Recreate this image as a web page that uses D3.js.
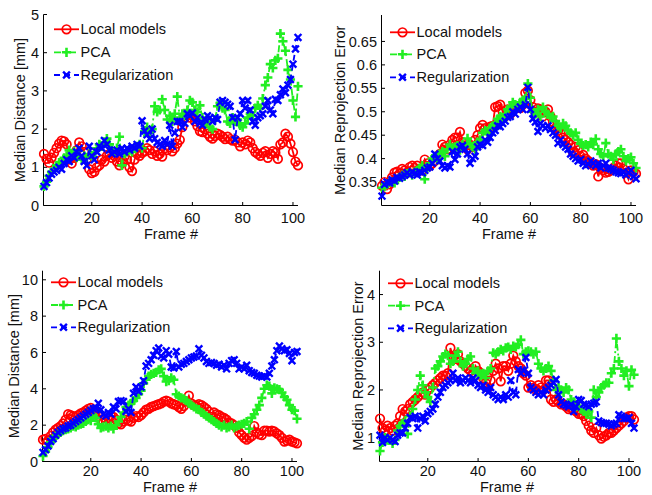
<!DOCTYPE html>
<html><head><meta charset="utf-8">
<script src="https://cdn.jsdelivr.net/npm/d3@7"></script>
<style>
body{margin:0;background:#fff}
svg{display:block}
text{font-family:"Liberation Sans",Arial,Helvetica,sans-serif;font-size:14.5px;fill:#111}
</style>
</head><body>
<svg id="chart" width="652" height="495"></svg>
<script>
const frames = d3.range(1, 103);
const seriesNames = ["Local models", "PCA", "Regularization"];
const xTicks = [20, 40, 60, 80, 100];
const yTicksA = [0, 1, 2, 3, 4, 5];
const yTicksB = [0.35, 0.4, 0.45, 0.5, 0.55, 0.6, 0.65];
const yTicksC = [0, 2, 4, 6, 8, 10];
const yTicksD = [1, 2, 3, 4];
const yLabelDist = "Median Distance [mm]";
const yLabelReproj = "Median Reprojection Error";
const xLabelText = "Frame #";

// Panel A: top-left, median distance
const aLocal = [1.35,1.22,1.12,1.25,1.38,1.5,1.62,1.7,1.68,1.6,
 1.2,1.1,1.25,1.45,1.65,1.55,1.4,1.2,0.95,0.85,
 0.88,1.0,1.05,1.2,1.15,1.3,1.35,1.25,1.3,1.15,
 1.05,1.12,1.28,1.2,1.0,0.9,1.2,1.35,1.3,1.38,
 1.42,1.5,1.45,1.35,1.42,1.3,1.35,1.28,1.5,1.45,
 1.52,1.42,1.5,1.62,1.72,2.05,2.3,2.38,2.3,2.35,
 2.2,2.08,1.95,1.92,2.0,1.88,1.8,1.75,1.82,1.88,
 1.85,1.8,1.74,1.8,1.74,1.7,1.72,1.65,1.55,1.65,
 1.6,1.7,1.65,1.5,1.4,1.35,1.3,1.38,1.42,1.25,
 1.35,1.42,1.38,1.22,1.6,1.65,1.88,1.8,1.62,1.4,
 1.15,1.05];
const aPCA = [0.5,0.62,0.78,0.88,0.95,1.05,1.12,1.1,1.25,1.3,
 1.45,1.35,1.42,1.25,1.3,1.2,1.3,1.25,1.35,1.3,
 1.4,1.5,1.6,1.55,1.65,1.75,1.6,1.45,1.4,1.5,
 1.8,1.05,1.35,1.4,1.45,1.4,1.5,1.55,1.6,1.5,
 1.95,2.05,1.9,2.0,2.6,2.45,2.5,2.78,2.5,2.25,
 2.35,2.2,2.4,2.85,2.3,2.4,2.35,2.5,2.75,2.7,
 2.5,2.45,2.62,2.3,2.15,2.2,2.05,2.0,2.25,2.6,
 2.68,2.55,2.5,2.2,2.15,2.3,2.2,2.25,2.1,2.05,
 2.15,2.3,2.4,2.35,2.55,2.62,2.55,2.8,3.15,3.35,
 3.7,3.6,3.8,3.85,4.5,4.3,4.05,3.55,3.3,2.75,
 2.32,3.12];
const aReg = [0.5,0.6,0.72,0.82,0.88,0.92,1.0,0.95,1.1,1.2,
 1.15,1.3,1.25,1.4,1.5,1.3,1.15,1.05,1.55,1.3,
 1.2,1.4,1.55,1.5,1.7,1.6,1.45,1.35,1.4,1.45,
 1.35,1.5,1.4,1.5,1.45,1.55,1.5,1.6,1.55,2.22,
 1.95,1.85,1.75,2.0,1.75,1.65,1.6,1.55,1.7,1.6,
 2.1,1.55,1.9,2.2,2.2,2.05,2.15,2.4,2.35,2.42,
 2.2,2.3,2.15,2.1,2.25,2.35,2.3,2.2,2.3,2.25,
 2.7,2.75,2.7,2.65,2.6,2.3,1.72,2.3,2.4,2.75,
 2.55,2.75,2.5,2.2,2.1,2.3,2.35,2.4,2.6,2.75,
 2.5,2.4,2.78,2.75,2.9,3.05,2.95,3.15,3.3,3.7,
 4.1,4.4];

// Panel B: top-right, median reprojection error
const bLocal = [0.342,0.35,0.335,0.345,0.36,0.37,0.372,0.368,0.378,0.375,
 0.37,0.382,0.385,0.38,0.385,0.378,0.375,0.398,0.39,0.385,
 0.39,0.395,0.405,0.41,0.43,0.425,0.42,0.43,0.44,0.445,
 0.445,0.457,0.435,0.428,0.42,0.43,0.425,0.44,0.45,0.465,
 0.472,0.465,0.462,0.468,0.47,0.51,0.512,0.515,0.5,0.49,
 0.505,0.495,0.505,0.51,0.512,0.508,0.515,0.54,0.545,0.525,
 0.51,0.5,0.507,0.505,0.49,0.5,0.505,0.49,0.478,0.465,
 0.46,0.455,0.445,0.44,0.435,0.43,0.413,0.425,0.418,0.405,
 0.408,0.4,0.395,0.39,0.385,0.388,0.362,0.38,0.375,0.37,
 0.372,0.375,0.38,0.385,0.39,0.39,0.378,0.37,0.356,0.375,
 0.372,0.368];
const bPCA = [0.338,0.34,0.345,0.35,0.35,0.348,0.355,0.36,0.365,0.362,
 0.368,0.37,0.365,0.372,0.375,0.38,0.385,0.356,0.38,0.39,
 0.4,0.405,0.398,0.41,0.415,0.405,0.42,0.43,0.42,0.425,
 0.428,0.418,0.43,0.425,0.443,0.432,0.425,0.42,0.435,0.44,
 0.455,0.46,0.452,0.465,0.47,0.475,0.485,0.49,0.48,0.495,
 0.505,0.51,0.52,0.515,0.51,0.52,0.525,0.528,0.56,0.53,
 0.5,0.495,0.505,0.49,0.51,0.5,0.495,0.488,0.49,0.48,
 0.47,0.465,0.475,0.47,0.46,0.455,0.45,0.455,0.44,0.432,
 0.428,0.43,0.425,0.435,0.43,0.442,0.42,0.41,0.405,0.433,
 0.41,0.405,0.398,0.41,0.415,0.42,0.405,0.395,0.4,0.403,
 0.39,0.38];
const bReg = [0.32,0.345,0.35,0.348,0.355,0.352,0.36,0.358,0.362,0.365,
 0.37,0.365,0.372,0.368,0.365,0.372,0.37,0.375,0.38,0.382,
 0.39,0.41,0.4,0.395,0.385,0.38,0.385,0.382,0.415,0.398,
 0.41,0.425,0.428,0.42,0.41,0.39,0.4,0.405,0.425,0.43,
 0.428,0.44,0.435,0.445,0.455,0.46,0.47,0.468,0.475,0.48,
 0.488,0.49,0.5,0.495,0.505,0.51,0.505,0.515,0.552,0.505,
 0.485,0.478,0.458,0.475,0.47,0.465,0.47,0.462,0.455,0.45,
 0.433,0.44,0.43,0.425,0.42,0.41,0.405,0.4,0.395,0.398,
 0.39,0.385,0.388,0.395,0.39,0.385,0.39,0.38,0.385,0.39,
 0.38,0.378,0.375,0.372,0.37,0.368,0.372,0.365,0.37,0.375,
 0.362,0.357];

// Panel C: bottom-left, median distance
const cLocal = [1.2,1.25,1.15,1.4,1.6,1.75,1.85,1.95,2.1,2.3,
 2.6,2.55,2.5,2.45,2.55,2.65,2.7,2.8,2.9,2.95,
 2.8,2.75,2.6,2.3,2.15,2.2,2.4,2.5,2.45,2.3,
 2.1,2.05,2.2,2.3,2.25,2.2,2.4,2.5,2.45,2.55,
 2.7,2.85,2.9,3.0,3.05,3.1,3.15,3.2,3.3,3.35,
 3.3,3.2,3.15,3.1,3.0,2.9,3.05,3.3,3.62,3.2,
 3.1,3.05,3.15,3.1,3.0,2.9,2.75,2.45,2.7,2.6,
 2.55,2.45,2.4,2.3,2.15,2.1,2.0,1.85,1.6,1.45,
 1.3,1.2,1.3,1.4,1.95,1.6,1.5,1.45,1.7,1.7,
 1.65,1.7,1.65,1.55,1.45,1.3,1.1,1.15,1.2,1.1,
 1.05,1.0];
const cPCA = [0.3,0.55,0.8,1.05,1.25,1.4,1.5,1.6,1.7,1.75,
 1.8,1.85,1.95,1.9,2.0,2.05,2.1,2.2,2.3,2.25,
 2.5,2.4,2.05,1.85,1.9,1.95,1.85,1.95,1.8,2.0,
 2.2,2.45,2.7,3.0,3.1,3.2,3.35,3.5,3.7,3.9,
 4.3,4.5,4.7,4.8,4.85,4.9,5.05,5.1,4.7,4.4,
 4.45,4.6,4.5,3.7,3.6,3.5,3.45,3.35,3.2,3.1,
 3.0,2.9,2.85,2.7,2.6,2.5,2.4,2.3,2.2,2.1,
 2.0,1.9,2.0,1.85,1.9,2.0,1.85,1.95,2.0,2.05,
 2.1,2.2,1.8,2.4,2.6,2.85,3.1,3.5,4.0,4.2,
 4.15,3.75,4.05,4.0,3.95,3.8,3.55,3.4,3.1,2.85,
 2.8,2.35];
const cReg = [0.5,0.65,0.85,1.1,1.25,1.45,1.6,1.7,1.8,1.85,
 1.95,2.0,2.1,2.2,2.3,2.4,2.5,2.6,2.7,2.8,
 2.9,2.95,3.2,2.85,2.6,2.5,2.7,2.6,3.0,2.9,
 3.3,3.35,3.3,2.75,2.9,2.7,3.75,4.1,3.85,4.1,
 4.45,5.25,5.4,5.6,5.85,6.1,6.25,5.8,5.7,6.1,
 5.9,5.2,5.15,6.05,5.2,5.35,5.4,5.5,5.6,5.7,
 5.75,5.8,6.2,5.85,5.7,5.5,5.4,5.45,5.4,5.3,
 5.35,5.2,5.3,5.1,5.4,5.55,5.6,5.4,5.1,5.2,
 5.1,5.3,5.0,4.9,4.85,4.75,4.7,4.65,4.7,4.65,
 4.85,5.25,5.6,6.1,6.35,6.2,6.1,6.15,5.95,5.55,
 6.0,6.05];

// Panel D: bottom-right, median reprojection error
const dLocal = [1.4,1.2,1.15,1.25,1.2,1.15,1.25,1.3,1.45,1.6,
 1.55,1.6,1.7,1.75,1.8,1.85,1.9,1.95,1.9,2.0,
 2.05,2.1,2.15,2.2,2.25,2.3,2.3,2.35,2.88,2.7,
 2.65,2.75,2.6,2.55,2.5,2.45,2.4,2.35,2.5,2.4,
 2.35,2.25,2.15,2.05,2.2,2.4,2.55,2.45,2.18,2.5,
 2.5,2.4,2.55,2.72,2.6,2.5,2.45,2.35,2.3,2.05,
 2.1,2.05,2.0,2.1,2.05,2.0,2.2,2.2,1.8,1.75,
 1.8,1.75,1.7,1.7,1.65,1.6,1.62,1.58,1.55,1.5,
 1.5,1.45,1.35,1.25,1.15,1.1,1.2,1.05,0.98,1.02,
 1.05,1.1,1.1,1.15,1.2,1.25,1.3,1.35,1.42,1.45,
 1.45,1.38];
const dPCA = [0.72,0.9,1.0,0.95,0.95,0.88,0.95,1.15,1.25,1.3,
 1.35,1.08,1.45,1.6,1.8,2.0,2.3,2.1,1.95,1.85,
 1.75,2.05,2.45,2.5,2.6,2.7,2.75,2.72,2.55,2.6,
 2.72,2.8,2.6,2.5,2.55,2.65,2.7,2.45,2.35,2.4,
 2.3,2.35,2.25,2.4,2.45,2.78,2.75,2.8,2.85,2.82,
 2.88,2.9,2.85,2.92,2.9,2.95,3.05,2.75,2.8,2.82,
 2.8,2.75,2.8,2.55,2.45,2.4,2.45,2.5,2.4,2.2,
 2.0,2.05,2.0,1.95,2.05,2.0,1.8,1.75,1.65,1.75,
 1.6,1.55,1.5,1.55,1.42,2.0,1.85,1.95,2.05,2.1,
 2.15,2.15,2.35,2.45,3.08,2.6,2.45,2.3,2.4,2.08,
 2.42,2.32];
const dReg = [1.05,0.9,1.0,0.95,1.0,0.95,0.92,1.05,1.1,1.1,
 1.2,1.3,1.42,1.4,1.45,1.2,1.4,1.45,1.35,1.5,
 1.55,1.6,1.7,1.85,1.95,2.05,2.1,2.15,2.2,2.35,
 2.2,2.25,2.15,2.2,2.25,2.2,2.15,2.25,2.2,2.1,
 2.05,2.1,2.0,1.95,2.05,1.9,1.85,1.8,1.85,1.8,
 1.9,1.85,2.2,1.95,1.9,2.43,2.35,2.4,2.68,2.35,
 2.05,2.0,1.95,1.9,1.95,1.9,2.0,2.05,2.1,2.15,
 2.22,1.9,1.75,1.7,1.68,1.65,1.7,1.55,1.65,1.8,
 1.78,1.7,1.68,1.65,1.7,1.72,1.75,1.35,1.32,1.3,
 1.3,1.28,1.25,1.28,1.3,1.48,1.45,1.4,1.4,1.42,
 1.3,1.2];

// ---------- layout (positions / styles) ----------
const styles = [
  {color: "#ff0000", dash: null, marker: "o"},
  {color: "#22ee22", dash: "7,3,2,3", marker: "+"},
  {color: "#0000ff", dash: "6,4", marker: "x"}
];

const panels = [
  {series: [aLocal, aPCA, aReg], yTicks: yTicksA, yDom: [0, 5], ylab: yLabelDist,
   x0: 44, x1: 298, yb: 205.5, yt: 14.5, axTop: 14.5,
   tickLabY: 222.5, xLabY: 239, yLabX: 20, legX: 54, legY: [29.3, 52.3, 75]},
  {series: [bLocal, bPCA, bReg], yTicks: yTicksB, yDom: [0.3, 0.7], ylab: yLabelReproj,
   x0: 382, x1: 636, yb: 205.5, yt: 18, axTop: 15,
   tickLabY: 222.5, xLabY: 239, yLabX: 340, legX: 390, legY: [32.3, 54.3, 77.3]},
  {series: [cLocal, cPCA, cReg], yTicks: yTicksC, yDom: [0, 10.5], ylab: yLabelDist,
   x0: 43, x1: 297, yb: 461.5, yt: 270.7, axTop: 270.7,
   tickLabY: 475.5, xLabY: 492, yLabX: 14, legX: 51, legY: [282.3, 305, 327.3]},
  {series: [dLocal, dPCA, dReg], yTicks: yTicksD, yDom: [0.5, 4.5], ylab: yLabelReproj,
   x0: 380, x1: 634, yb: 461.5, yt: 270.7, axTop: 270.7,
   tickLabY: 475.5, xLabY: 492, yLabX: 357.5, legX: 388, legY: [283.3, 305.7, 328.3]}
];

const svg = d3.select("#chart");

function drawMarker(g, type, color) {
  if (type === "o") {
    g.append("circle").attr("r", 4.3).attr("fill", "none")
      .attr("stroke", color).attr("stroke-width", 1.7);
  } else if (type === "+") {
    g.append("path").attr("d", "M-4.6,0H4.6M0,-4.6V4.6").attr("fill", "none")
      .attr("stroke", color).attr("stroke-width", 2.6);
  } else {
    g.append("path").attr("d", "M-3.4,-3.4L3.4,3.4M-3.4,3.4L3.4,-3.4").attr("fill", "none")
      .attr("stroke", color).attr("stroke-width", 2.4);
  }
}

panels.forEach(p => {
  const x = d3.scaleLinear().domain([1, 102]).range([p.x0, p.x1]);
  const y = d3.scaleLinear().domain(p.yDom).range([p.yb, p.yt]);
  const g = svg.append("g");

  // axes lines
  g.append("line").attr("x1", p.x0 - 0.5).attr("x2", p.x0 - 0.5)
    .attr("y1", p.yb).attr("y2", p.axTop).attr("stroke", "#000").attr("stroke-width", 1);
  g.append("line").attr("x1", p.x0 - 0.5).attr("x2", p.x1)
    .attr("y1", p.yb).attr("y2", p.yb).attr("stroke", "#000").attr("stroke-width", 1);

  // x ticks
  xTicks.forEach(t => {
    g.append("line").attr("x1", x(t)).attr("x2", x(t))
      .attr("y1", p.yb).attr("y2", p.yb - 3.5).attr("stroke", "#000");
    g.append("text").attr("x", x(t)).attr("y", p.tickLabY)
      .attr("text-anchor", "middle").text(t);
  });
  // y ticks
  p.yTicks.forEach(t => {
    g.append("line").attr("x1", p.x0 - 0.5).attr("x2", p.x0 + 3)
      .attr("y1", y(t)).attr("y2", y(t)).attr("stroke", "#000");
    g.append("text").attr("x", p.x0 - 5).attr("y", y(t)).attr("dy", "0.35em")
      .attr("text-anchor", "end").text(String(t));
  });

  // labels
  g.append("text").attr("x", (p.x0 + p.x1) / 2).attr("y", p.xLabY)
    .attr("text-anchor", "middle").text(xLabelText);
  const yc = (p.yb + p.axTop) / 2;
  g.append("text").attr("transform", `translate(${p.yLabX},${yc}) rotate(-90)`)
    .attr("dy", "0.35em").attr("text-anchor", "middle").text(p.ylab);

  // series
  const line = d3.line().x((d, i) => x(frames[i])).y(d => y(d));
  p.series.forEach((vals, si) => {
    const st = styles[si];
    const sg = g.append("g");
    sg.append("path").datum(vals).attr("d", line).attr("fill", "none")
      .attr("stroke", st.color).attr("stroke-width", 1.8)
      .attr("stroke-dasharray", st.dash);
    vals.forEach((v, i) => {
      const mg = sg.append("g").attr("transform", `translate(${x(frames[i])},${y(v)})`);
      drawMarker(mg, st.marker, st.color);
    });
  });

  // legend
  seriesNames.forEach((name, si) => {
    const st = styles[si];
    const ly = p.legY[si];
    g.append("line").attr("x1", p.legX).attr("x2", p.legX + 25)
      .attr("y1", ly).attr("y2", ly).attr("stroke", st.color).attr("stroke-width", 1.8)
      .attr("stroke-dasharray", st.dash);
    const mg = g.append("g").attr("transform", `translate(${p.legX + 12.5},${ly})`);
    drawMarker(mg, st.marker, st.color);
    g.append("text").attr("x", p.legX + 26.5).attr("y", ly).attr("dy", "0.35em").text(name);
  });
});
</script>
</body></html>
